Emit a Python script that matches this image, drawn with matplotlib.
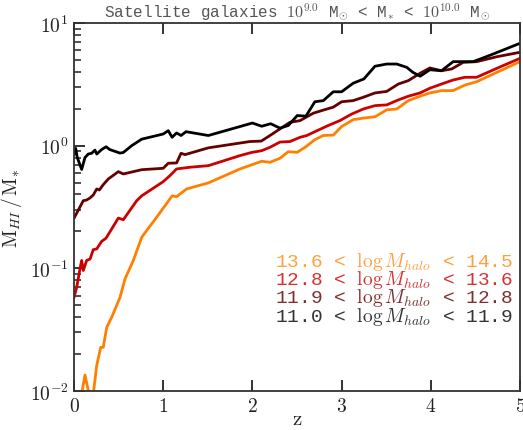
import matplotlib
matplotlib.use("Agg")
import matplotlib.pyplot as plt
from matplotlib.ticker import FixedLocator, FixedFormatter, LogLocator, NullFormatter

plt.rcParams['mathtext.fontset'] = 'cm'
plt.rcParams['font.family'] = ['DejaVu Serif']

# ---- data ----
z_black = [0.0, 0.019, 0.037, 0.06, 0.086, 0.123, 0.16, 0.198, 0.235, 0.255, 0.31, 0.36, 0.40,
           0.516, 0.553, 0.647, 0.759, 0.889, 1.0, 1.057, 1.10, 1.15, 1.20, 1.256, 1.506, 2.0,
           2.104, 2.205, 2.309, 2.402, 2.503, 2.60, 2.70, 2.795, 2.907, 3.0, 3.13, 3.25, 3.374,
           3.506, 3.618, 3.73, 3.80, 3.88, 3.99, 4.12, 4.25, 4.476, 4.70, 5.0]
hi_black = [0.85, 0.95, 0.80, 0.72, 0.64, 0.80, 0.855, 0.867, 0.92, 0.855, 0.93, 0.98, 0.93,
            0.87, 0.88, 1.0, 1.13, 1.19, 1.245, 1.325, 1.17, 1.27, 1.21, 1.30, 1.21, 1.53,
            1.44, 1.51, 1.39, 1.46, 1.76, 1.74, 2.28, 2.33, 2.75, 2.75, 3.23, 3.50, 4.44,
            4.63, 4.63, 4.35, 3.96, 3.68, 4.16, 4.08, 4.84, 4.84, 5.59, 6.83]

z_dred = [0.0, 0.05, 0.104, 0.14, 0.18, 0.216, 0.255, 0.284, 0.328, 0.384, 0.497, 0.553, 0.759,
          1.0, 1.057, 1.15, 1.2, 1.244, 1.506, 1.97, 2.10, 2.197, 2.309, 2.42, 2.534, 2.683,
          2.795, 2.907, 3.0, 3.13, 3.243, 3.374, 3.506, 3.636, 3.748, 3.879, 3.99, 4.12, 4.234,
          4.364, 4.514, 4.74, 5.0]
hi_dred = [0.256, 0.30, 0.356, 0.36, 0.375, 0.396, 0.444, 0.435, 0.481, 0.535, 0.614, 0.588, 0.637,
           0.654, 0.719, 0.723, 0.867, 0.845, 0.96, 1.08, 1.09, 1.21, 1.37, 1.55, 1.60, 1.84,
           1.95, 2.06, 2.28, 2.33, 2.48, 2.69, 2.77, 3.18, 3.39, 3.89, 4.30, 4.08, 4.22,
           4.78, 4.84, 5.31, 5.77]

z_red = [0.0, 0.03, 0.067, 0.086, 0.104, 0.142, 0.18, 0.216, 0.255, 0.31, 0.359, 0.497, 0.553,
         0.703, 0.759, 1.0, 1.076, 1.15, 1.30, 1.506, 1.861, 1.99, 2.104, 2.197, 2.309, 2.42,
         2.534, 2.61, 2.72, 2.85, 2.98, 3.113, 3.243, 3.374, 3.506, 3.636, 3.748, 3.879, 3.99,
         4.12, 4.25, 4.383, 4.514, 4.74, 5.0]
hi_red = [0.058, 0.070, 0.099, 0.116, 0.096, 0.116, 0.119, 0.142, 0.144, 0.166, 0.176, 0.257, 0.249,
          0.356, 0.39, 0.509, 0.57, 0.646, 0.667, 0.687, 0.83, 0.88, 0.91, 0.97, 1.07, 1.08,
          1.17, 1.21, 1.32, 1.46, 1.60, 1.81, 1.99, 2.12, 2.15, 2.36, 2.53, 2.69, 2.94,
          3.18, 3.43, 3.61, 3.61, 4.27, 5.15]

z_orange = [0.06, 0.123, 0.20, 0.254, 0.30, 0.328, 0.367, 0.423, 0.516, 0.572, 0.665, 0.759, 0.833,
            0.908, 1.10, 1.15, 1.263, 1.506, 1.861, 2.104, 2.197, 2.309, 2.402, 2.503, 2.60, 2.70,
            2.795, 2.907, 3.0, 3.13, 3.25, 3.374, 3.506, 3.618, 3.748, 3.879, 3.99, 4.12, 4.25,
            4.383, 4.514, 4.74, 5.0]
hi_orange = [0.0075, 0.0135, 0.0075, 0.0161, 0.0227, 0.0227, 0.0331, 0.040, 0.058, 0.082, 0.116, 0.179, 0.212,
             0.25, 0.39, 0.384, 0.444, 0.497, 0.646, 0.746, 0.732, 0.789, 0.893, 0.883, 0.98, 1.12,
             1.21, 1.22, 1.43, 1.63, 1.68, 1.72, 1.96, 1.99, 2.33, 2.53, 2.69, 2.81, 2.81,
             3.12, 3.32, 3.96, 4.84]

labels = ["13.6 < $\\log M_{halo}$ < 14.5",
          "12.8 < $\\log M_{halo}$ < 13.6",
          "11.9 < $\\log M_{halo}$ < 12.8",
          "11.0 < $\\log M_{halo}$ < 11.9"]
x_ticks = [0, 1, 2, 3, 4, 5]
x_ticklabels = ["$0$", "$1$", "$2$", "$3$", "$4$", "$5$"]
y_ticks = [1e-2, 1e-1, 1e0, 1e1]
y_ticklabels = ["$10^{-2}$", "$10^{-1}$", "$10^{0}$", "$10^{1}$"]

line_colors = ["#ff8000", "#cc0000", "#660000", "#000000"]
text_colors = ["#ffa040", "#d83030", "#7e2e2e", "#333333"]

fig = plt.figure(figsize=(5.23, 4.31), dpi=100)
ax = fig.add_axes([74/523, 1-392/431, 446/523, 368/431])

series = [(z_orange, hi_orange), (z_red, hi_red), (z_dred, hi_dred), (z_black, hi_black)]
for (zz, vv), c in zip(series, line_colors):
    ax.plot(zz, vv, color=c, lw=2.0)

ax.set_yscale('log')
ax.set_xlim(0, 5)
ax.set_ylim(1e-2, 1e1)

ax.xaxis.set_major_locator(FixedLocator(x_ticks))
ax.xaxis.set_major_formatter(FixedFormatter(x_ticklabels))
ax.yaxis.set_major_locator(FixedLocator(y_ticks))
ax.yaxis.set_major_formatter(FixedFormatter(y_ticklabels))
ax.yaxis.set_minor_locator(LogLocator(base=10, subs=range(2, 10)))
ax.yaxis.set_minor_formatter(NullFormatter())

ax.tick_params(axis='both', which='major', direction='in', length=8, width=1.3,
               labelsize=14, colors='#222222', pad=4)
ax.tick_params(axis='y', which='minor', direction='in', length=5, width=1.1, color='#222222')
ax.tick_params(axis='x', top=True, bottom=True)
ax.tick_params(axis='y', which='both', left=True, right=False)

for sp in ax.spines.values():
    sp.set_linewidth(1.3)
    sp.set_color('#333333')

ax.set_xlabel("$\\mathrm{z}$", fontsize=15, color='#222222', labelpad=-4)
ax.set_ylabel("$\\mathrm{M}_{HI}\\,/\\,\\mathrm{M}_{*}$", fontsize=14, color='#222222', labelpad=4)

ax.set_title("Satellite galaxies $10^{9.0}$ M$_{\\odot}$ < M$_{*}$ < $10^{10.0}$ M$_{\\odot}$",
             family='Liberation Mono', fontsize=11.5, color='#555555', pad=5)

ys = [0.3405, 0.2908, 0.2410, 0.1910]
for lab, c, y in zip(labels, text_colors, ys):
    ax.text(0.984, y, lab, transform=ax.transAxes, ha='right', va='baseline',
            family='Liberation Mono', fontsize=14, color=c)

fig.savefig("out.png", dpi=100)
